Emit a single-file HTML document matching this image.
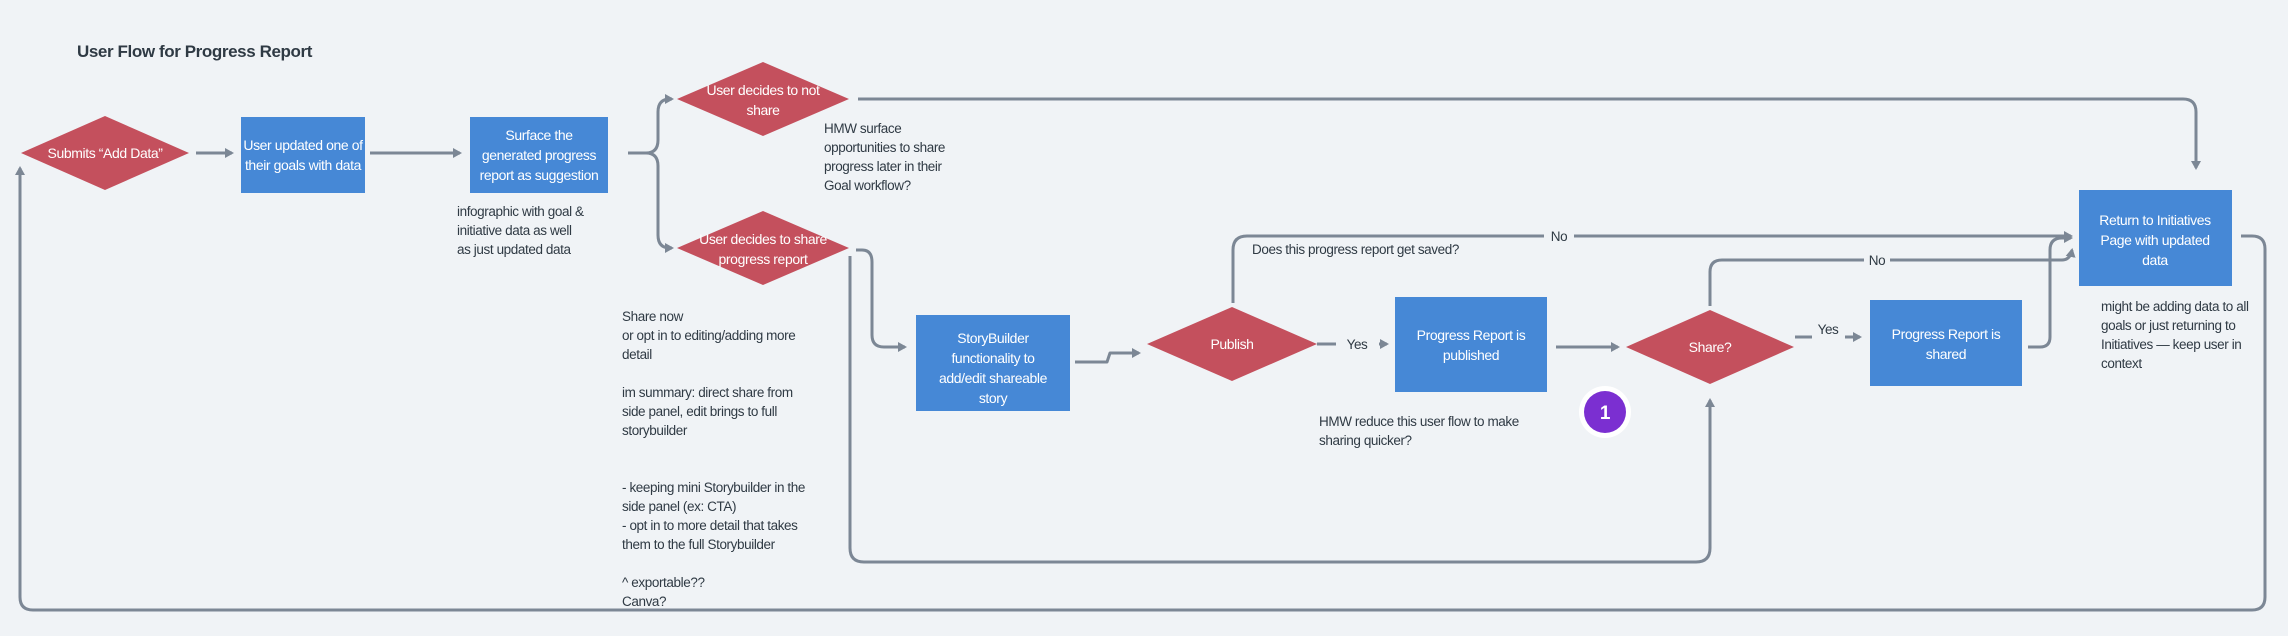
<!DOCTYPE html>
<html><head><meta charset="utf-8"><style>
html,body{margin:0;padding:0;background:#f0f3f6;}
svg{display:block;}
text{font-family:"Liberation Sans",sans-serif;letter-spacing:-0.4px;}
.w{fill:#fff;font-size:14px;text-anchor:middle;}
.n{fill:#2f3a44;font-size:13.5px;}
.l{fill:none;stroke:#7c8795;stroke-width:3;stroke-linejoin:round;}
.lab{fill:#2f3a44;font-size:13.5px;text-anchor:middle;}
</style></head><body>
<svg width="2288" height="636" viewBox="0 0 2288 636" xmlns="http://www.w3.org/2000/svg">
<defs>
<marker id="a" markerWidth="12" markerHeight="12" refX="7" refY="6" orient="auto" markerUnits="userSpaceOnUse"><path d="M0,1 L9,6 L0,11 z" fill="#7c8795"/></marker>
</defs>
<rect x="0" y="0" width="2288" height="636" fill="#f0f3f6"/>
<text x="77" y="57" style="font-size:17px;font-weight:bold;fill:#2f3a44">User Flow for Progress Report</text>

<g class="l">
<path d="M196,153 H232" marker-end="url(#a)"/>
<path d="M370,153 H460" marker-end="url(#a)"/>
<path d="M628,153 H646 Q658,153 658,140 V112 Q658,99 670,99 H672" marker-end="url(#a)"/>
<path d="M646,153 Q658,153 658,166 V235 Q658,248 670,248 H672"  marker-end="url(#a)"/>
<path d="M858,99 H2183 Q2196,99 2196,112 V168" marker-end="url(#a)"/>
<path d="M856,250 H862 Q872,250 872,262 V335 Q872,347 884,347 H905" marker-end="url(#a)"/>
<path d="M850,256 V548 Q850,562 864,562 H1696 Q1710,562 1710,548 V400" marker-end="url(#a)"/>
<path d="M1075,362 H1107 L1110,353 H1139" marker-end="url(#a)"/>
<path d="M1233,303 V250 Q1233,236 1247,236 H2071" marker-end="url(#a)"/>
<path d="M1317,344 H1336"/>
<path d="M1379,344 H1387" marker-end="url(#a)"/>
<path d="M1556,347 H1618" marker-end="url(#a)"/>
<path d="M1710,306 V272 Q1710,260 1722,260 H2062 Q2070,260 2072,250" marker-end="url(#a)"/>
<path d="M1795,337 H1812"/>
<path d="M1845,337 H1860" marker-end="url(#a)"/>
<path d="M2028,347 H2040 Q2050,347 2050,337 V250 Q2050,238 2062,238 H2071" marker-end="url(#a)"/>
<path d="M2241,236 H2252 Q2265,236 2265,249 V597 Q2265,610 2252,610 H33 Q20,610 20,597 V168" marker-end="url(#a)"/>
</g>
<rect x="1544" y="229" width="30" height="14" fill="#f0f3f6"/>
<text x="1559" y="241" class="lab">No</text>
<rect x="1864" y="252" width="26" height="14" fill="#f0f3f6"/>
<text x="1877" y="265" class="lab">No</text>
<rect x="1337" y="336" width="42" height="16" fill="#f0f3f6"/>
<text x="1357" y="349" class="lab">Yes</text>
<text x="1828" y="334" class="lab">Yes</text>

<g fill="#c4505d">
<polygon points="21,153 105,116 189,153 105,190"/>
<polygon points="677,99 763,62 849,99 763,136"/>
<polygon points="677,248 763,211 849,248 763,285"/>
<polygon points="1147,344 1232,307 1317,344 1232,381"/>
<polygon points="1626,347 1710,310 1794,347 1710,384"/>
</g>
<text x="105" y="158" class="w">Submits “Add Data”</text>
<text x="763" y="95" class="w">User decides to not</text>
<text x="763" y="115" class="w">share</text>
<text x="763" y="244" class="w">User decides to share</text>
<text x="763" y="264" class="w">progress report</text>
<text x="1232" y="349" class="w">Publish</text>
<text x="1710" y="352" class="w">Share?</text>

<g fill="#4688d6">
<rect x="241" y="117" width="124" height="76"/>
<rect x="470" y="117" width="138" height="76"/>
<rect x="916" y="315" width="154" height="96"/>
<rect x="1395" y="297" width="152" height="95"/>
<rect x="1870" y="300" width="152" height="86"/>
<rect x="2079" y="190" width="153" height="96"/>
</g>
<text x="303" y="150" class="w">User updated one of</text>
<text x="303" y="170" class="w">their goals with data</text>
<text x="539" y="140" class="w">Surface the</text>
<text x="539" y="160" class="w">generated progress</text>
<text x="539" y="180" class="w">report as suggestion</text>
<text x="993" y="343" class="w">StoryBuilder</text>
<text x="993" y="363" class="w">functionality to</text>
<text x="993" y="383" class="w">add/edit shareable</text>
<text x="993" y="403" class="w">story</text>
<text x="1471" y="340" class="w">Progress Report is</text>
<text x="1471" y="360" class="w">published</text>
<text x="1946" y="339" class="w">Progress Report is</text>
<text x="1946" y="359" class="w">shared</text>
<text x="2155" y="225" class="w">Return to Initiatives</text>
<text x="2155" y="245" class="w">Page with updated</text>
<text x="2155" y="265" class="w">data</text>

<g class="n">
<text x="824" y="133">HMW surface</text>
<text x="824" y="152">opportunities to share</text>
<text x="824" y="171">progress later in their</text>
<text x="824" y="190">Goal workflow?</text>
<text x="457" y="216">infographic with goal &amp;</text>
<text x="457" y="235">initiative data as well</text>
<text x="457" y="254">as just updated data</text>
<text x="622" y="321">Share now</text>
<text x="622" y="340">or opt in to editing/adding more</text>
<text x="622" y="359">detail</text>
<text x="622" y="397"> im summary: direct share from</text>
<text x="622" y="416">side panel, edit brings to full</text>
<text x="622" y="435">storybuilder</text>
<text x="622" y="492">- keeping mini Storybuilder in the</text>
<text x="622" y="511">side panel (ex: CTA)</text>
<text x="622" y="530">- opt in to more detail that takes</text>
<text x="622" y="549">them to the full Storybuilder</text>
<text x="622" y="587">^ exportable??</text>
<text x="622" y="606">Canva?</text>
<text x="1252" y="254">Does this progress report get saved?</text>
<text x="1319" y="426">HMW reduce this user flow to make</text>
<text x="1319" y="445">sharing quicker?</text>
<text x="2101" y="311">might be adding data to all</text>
<text x="2101" y="330">goals or just returning to</text>
<text x="2101" y="349">Initiatives — keep user in</text>
<text x="2101" y="368">context</text>
</g>

<circle cx="1605" cy="412" r="26" fill="#fff"/>
<circle cx="1605" cy="412" r="21" fill="#7b2fd1"/>
<text x="1605" y="419" style="fill:#fff;font-size:19px;font-weight:bold;text-anchor:middle">1</text>
</svg>
</body></html>
